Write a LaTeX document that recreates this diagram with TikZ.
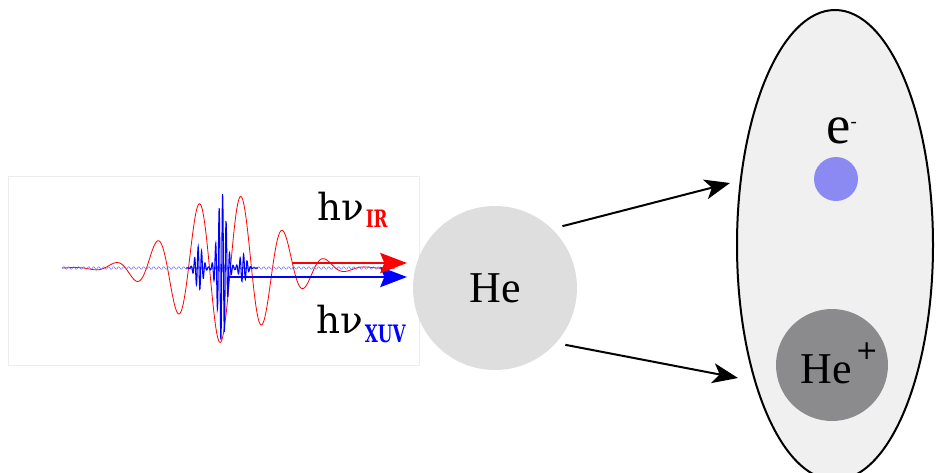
\documentclass[tikz,border=0pt]{standalone}
\usepackage{fontspec}
\setmainfont{Liberation Serif}
\newfontfamily\dvserif{DejaVu Serif}
\newfontfamily\dvsans{DejaVu Sans}
\usepackage{xcolor}
\usepackage{tikz}
\usetikzlibrary{arrows.meta,positioning}
\definecolor{heGray}{HTML}{DEDEDE}
\definecolor{ionGray}{HTML}{8B8B8E}
\definecolor{cloudGray}{HTML}{F0F0F0}
\definecolor{elecBlue}{HTML}{8A8AF2}
\newcommand{\subtxt}[1]{\scalebox{0.7}[1]{#1}}
\tikzset{
  atom/.style ={circle, fill=heGray, inner sep=0pt, minimum size=123pt, font=\fontsize{33}{33}\selectfont},
  ion/.style  ={circle, fill=ionGray, inner sep=0pt, minimum size=84pt},
  elec/.style ={circle, fill=elecBlue, inner sep=0pt, minimum size=33pt},
  lbl/.style  ={anchor=base west, inner sep=0pt, font=\dvserif\fontsize{28}{28}\selectfont},
  sub/.style  ={anchor=base west, inner sep=0pt, font=\dvserif\bfseries\fontsize{18}{18}\selectfont},
  arr/.style  ={-{Stealth[length=19pt, width=15pt, inset=5pt]}, line width=1.5pt},
  beam/.style ={-{Stealth[length=20pt, width=15pt, inset=3pt]}, line width=2.2pt},
}

\begin{document}
\begin{tikzpicture}[x=0.75pt, y=-0.75pt]
  \useasboundingbox (0,0) rectangle (940,472);
  \clip (0,0) rectangle (940,472);

  % ---- pulse panel: IR field and XUV burst ----
  \draw[gray!15, line width=0.75pt] (8,176) rectangle (419,365);
  \draw[red, line width=0.6pt] plot[domain=62:395, samples=500]
    (\x, {268+75*exp(-min(((\x-226)/68)^2,9))*cos(8.5714*(\x-220))});
  \draw[blue!60, line width=0.4pt] plot[domain=62:385, samples=700]
    (\x, {268+1.2*sin(72*(\x-230))});
  \draw[blue, line width=0.8pt] plot[domain=186:258, samples=320]
    (\x, {268+(75*exp(-min(((\x-222)/6)^2,9))+22*exp(-min(((\x-199)/5)^2,9))+14*exp(-min(((\x-243)/5)^2,9)))*sin(102.857*(\x-220))});

  \coordinate (irStart) at (292,263);
  \coordinate (irEnd) at (407,263);
  \coordinate (xuvStart) at (229,277);
  \coordinate (xuvEnd) at (407,277);
  \draw[beam, blue] (xuvStart) -- (xuvEnd);
  \draw[beam, red] (irStart) -- (irEnd);

  \node[lbl] (irLbl) at (317,220) {hν};
  \node[sub, red, right=1pt of irLbl.base east, anchor=base west, yshift=-5.25pt] (irSub) {\subtxt{IR}};
  \node[lbl] (xuvLbl) at (316,333) {hν};
  \node[sub, blue, right=1pt of xuvLbl.base east, anchor=base west, yshift=-6.75pt] (xuvSub) {\subtxt{XUV}};

  % ---- target atom ----
  \node[atom] (he) at (495,288) {He};

  % ---- products: electron and ion ----
  \draw[fill=cloudGray, line width=1.5pt] (835,245) ellipse [x radius=98, y radius=235];
  \node[elec] (elec) at (836,179) {};
  \node[anchor=base west, inner sep=0pt, font=\fontsize{41}{41}\selectfont] (eLbl) at (826,143)
    {e\raisebox{11.5pt}{\fontsize{14}{14}\selectfont -}};
  \node[ion] (ion) at (832,365) {};
  \node[anchor=base west, inner sep=0pt, font=\fontsize{33}{33}\selectfont] (ionLbl) at (800,383)
    {He\hspace{3pt}\raisebox{18pt}{\dvsans\fontsize{20}{20}\selectfont +}};

  \coordinate (toElec) at (730,183);
  \coordinate (toIon) at (738,378);
  \draw[arr, shorten <=8pt] (he.46) -- (toElec);
  \draw[arr, shorten <=7pt] (he.-42) -- (toIon);
\end{tikzpicture}
\end{document}
